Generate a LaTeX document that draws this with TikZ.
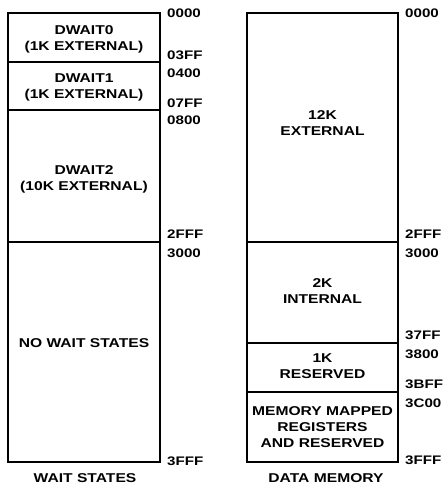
\documentclass[tikz,border=0pt]{standalone}
\usepackage{fontspec}
\usetikzlibrary{positioning}
\newfontfamily\memfont{Liberation Sans}[FakeStretch=1.22]
\newcommand{\boxfont}{\memfont\bfseries\fontsize{12.8}{16}\selectfont}
\newcommand{\addrfont}{\memfont\bfseries\fontsize{12.4}{13}\selectfont}

\begin{document}
\begin{tikzpicture}[
      x=1pt, y=-1pt,
      frame/.style={draw, line width=2pt},
      divider/.style={draw, line width=1.3pt},
      lbl/.style={font=\boxfont, align=center, inner sep=0pt},
      addr/.style={font=\addrfont, anchor=west, inner sep=0pt},
    ]
    \useasboundingbox (0,0) rectangle (445,487);

    % wait states column
    \draw[divider] (8,62) -- (160,62);
    \draw[divider] (8,110) -- (160,110);
    \draw[divider] (8,242) -- (160,242);
    \draw[frame] (8,13) rectangle (160,462);
    \node[lbl] (dwait0) at (84,39) {DWAIT0\\(1K EXTERNAL)};
    \node[lbl] (dwait1) at (84,87) {DWAIT1\\(1K EXTERNAL)};
    \node[lbl] (dwait2) at (84,179) {DWAIT2\\(10K EXTERNAL)};
    \node[lbl] (nowait) at (84,343) {NO WAIT STATES};
    \node[lbl] (waittitle) at (85,478) {WAIT STATES};

    \node[addr] (w0000) at (167,13) {0000};
    \node[addr] (w03ff) at (167,55) {03FF};
    \node[addr] (w0400) at (167,73) {0400};
    \node[addr] (w07ff) at (167,103) {07FF};
    \node[addr] (w0800) at (167,120) {0800};
    \node[addr] (w2fff) at (167,234) {2FFF};
    \node[addr] (w3000) at (167,253) {3000};
    \node[addr] (w3fff) at (167,461) {3FFF};

    % data memory column
    \draw[divider] (247,242) -- (398,242);
    \draw[divider] (247,343) -- (398,343);
    \draw[divider] (247,392) -- (398,392);
    \draw[frame] (247,13) rectangle (398,462);
    \node[lbl] (ext) at (322.5,123) {12K\\EXTERNAL};
    \node[lbl] (int) at (322.5,291) {2K\\INTERNAL};
    \node[lbl] (rsv) at (322.5,366.5) {1K\\RESERVED};
    \node[lbl] (mmr) at (322.5,427) {MEMORY MAPPED\\REGISTERS\\AND RESERVED};
    \node[lbl] (datatitle) at (326,478) {DATA MEMORY};

    \node[addr] (d0000) at (405,13) {0000};
    \node[addr] (d2fff) at (405,234) {2FFF};
    \node[addr] (d3000) at (405,253) {3000};
    \node[addr] (d37ff) at (405,335) {37FF};
    \node[addr] (d3800) at (405,354) {3800};
    \node[addr] (d3bff) at (405,384) {3BFF};
    \node[addr] (d3c00) at (405,403) {3C00};
    \node[addr] (d3fff) at (405,460) {3FFF};
  \end{tikzpicture}
\end{document}
